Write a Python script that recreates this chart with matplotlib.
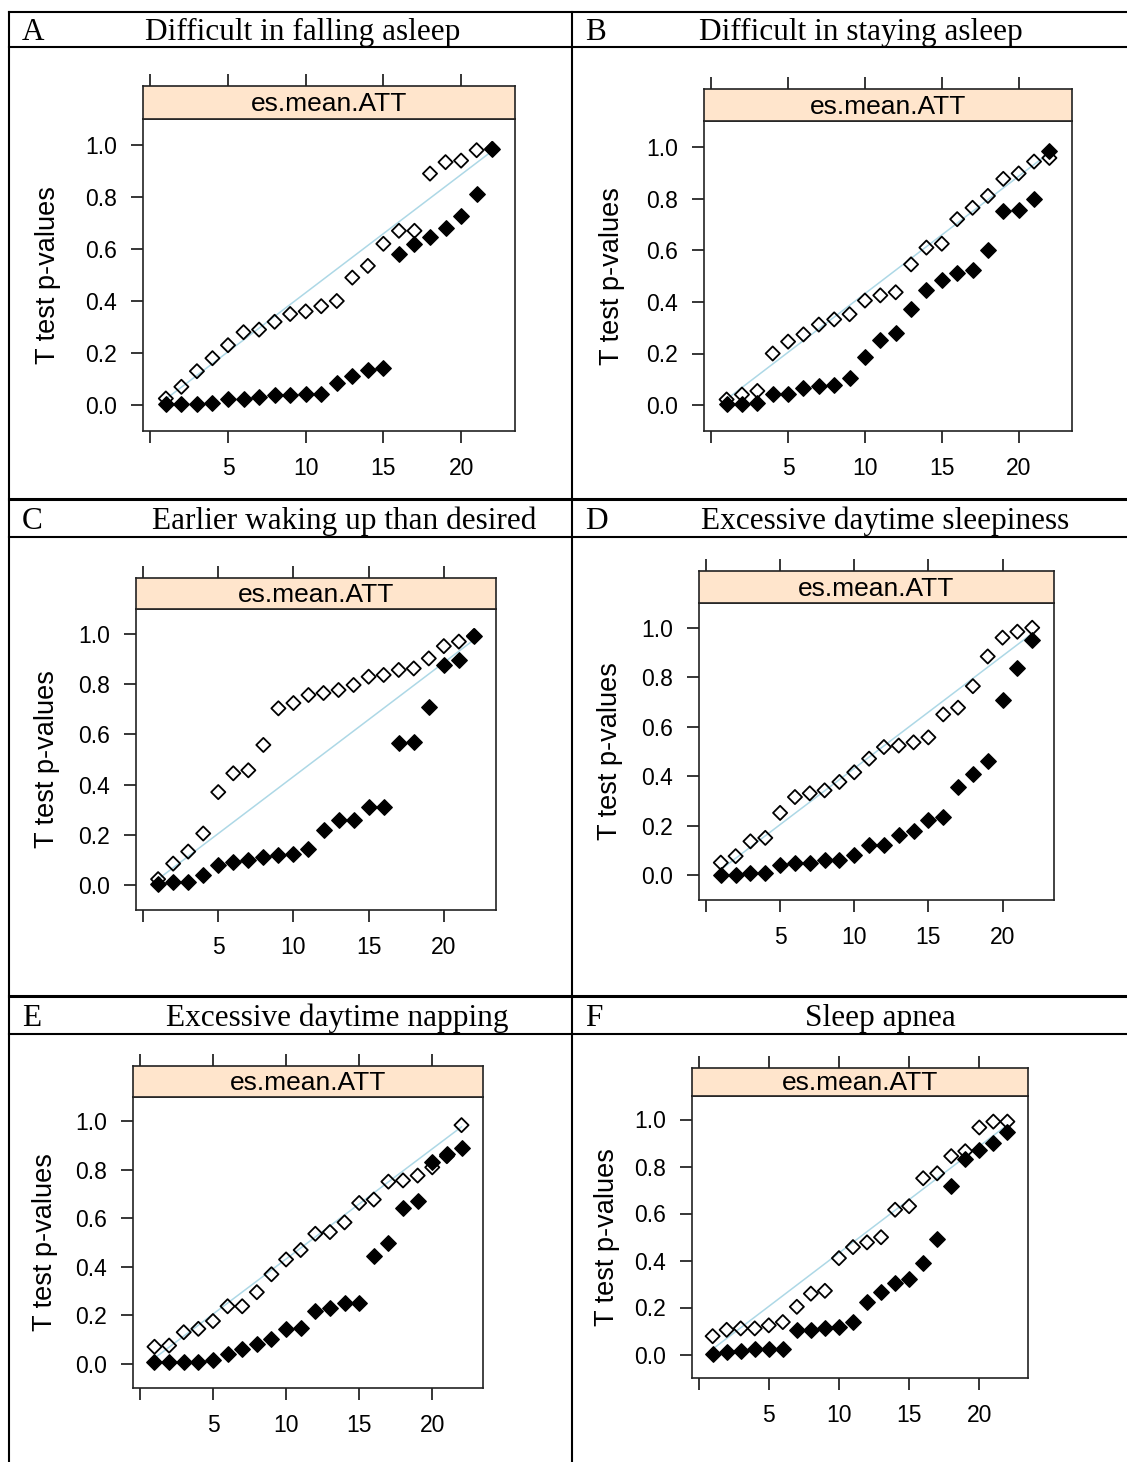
import numpy as np
import matplotlib
matplotlib.use('Agg')
import matplotlib.pyplot as plt

# rank of the sorted p-values
ranks = np.arange(1, 23)

# panel titles
letters = ['A', 'B', 'C', 'D', 'E', 'F']
titles = ['Difficult in falling asleep', 'Difficult in staying asleep',
          'Earlier waking up than desired', 'Excessive daytime sleepiness',
          'Excessive daytime napping', 'Sleep apnea']

# open diamonds (before matching) and filled diamonds (after matching)
a_open = [0.025, 0.07, 0.13, 0.18, 0.23, 0.28, 0.29, 0.32, 0.35, 0.36, 0.38,
          0.40, 0.49, 0.535, 0.62, 0.67, 0.67, 0.89, 0.934, 0.94, 0.98, 0.985]
a_filled = [0.003, 0.003, 0.003, 0.009, 0.024, 0.024, 0.03, 0.037, 0.037, 0.043, 0.043,
            0.083, 0.11, 0.136, 0.143, 0.58, 0.618, 0.646, 0.68, 0.726, 0.813, 0.985]

b_open = [0.022, 0.041, 0.055, 0.20, 0.246, 0.274, 0.312, 0.332, 0.352, 0.405, 0.425,
          0.437, 0.545, 0.61, 0.625, 0.72, 0.764, 0.81, 0.876, 0.897, 0.943, 0.957]
b_filled = [0.006, 0.004, 0.01, 0.045, 0.045, 0.066, 0.074, 0.08, 0.107, 0.187, 0.253,
            0.28, 0.372, 0.445, 0.485, 0.512, 0.525, 0.60, 0.75, 0.757, 0.797, 0.985]

c_open = [0.023, 0.085, 0.133, 0.205, 0.37, 0.445, 0.457, 0.558, 0.704, 0.725, 0.757,
          0.765, 0.777, 0.797, 0.83, 0.837, 0.857, 0.863, 0.903, 0.952, 0.97, 0.992]
c_filled = [0.004, 0.01, 0.01, 0.038, 0.078, 0.092, 0.10, 0.112, 0.118, 0.124, 0.145,
            0.218, 0.258, 0.258, 0.31, 0.31, 0.564, 0.571, 0.71, 0.878, 0.896, 0.992]

d_open = [0.051, 0.077, 0.137, 0.151, 0.252, 0.316, 0.331, 0.343, 0.377, 0.416, 0.471,
          0.518, 0.524, 0.537, 0.557, 0.65, 0.677, 0.764, 0.884, 0.96, 0.984, 1.0]
d_filled = [0.001, 0.001, 0.008, 0.008, 0.043, 0.05, 0.05, 0.063, 0.063, 0.082, 0.122,
            0.122, 0.163, 0.178, 0.223, 0.236, 0.357, 0.41, 0.463, 0.71, 0.838, 0.952]

e_open = [0.07, 0.075, 0.13, 0.144, 0.176, 0.237, 0.237, 0.295, 0.369, 0.43, 0.469,
          0.536, 0.543, 0.583, 0.663, 0.677, 0.751, 0.756, 0.776, 0.81, 0.856, 0.984]
e_filled = [0.008, 0.008, 0.008, 0.008, 0.015, 0.042, 0.062, 0.082, 0.103, 0.142, 0.149,
            0.216, 0.23, 0.249, 0.249, 0.443, 0.497, 0.643, 0.67, 0.83, 0.863, 0.89]

f_open = [0.078, 0.105, 0.111, 0.111, 0.124, 0.138, 0.203, 0.259, 0.271, 0.41, 0.457,
          0.477, 0.499, 0.616, 0.631, 0.75, 0.771, 0.844, 0.865, 0.966, 0.991, 0.991]
f_filled = [0.003, 0.01, 0.017, 0.024, 0.024, 0.024, 0.104, 0.104, 0.111, 0.118, 0.138,
            0.223, 0.264, 0.304, 0.322, 0.391, 0.491, 0.717, 0.83, 0.871, 0.898, 0.945]

open_vals = [a_open, b_open, c_open, d_open, e_open, f_open]
filled_vals = [a_filled, b_filled, c_filled, d_filled, e_filled, f_filled]

# uniform reference line
ref_x = [1, 22]
ref_y = [0.023, 0.977]

x_ticks = [0, 5, 10, 15, 20]
x_ticklabels = ['', '5', '10', '15', '20']
y_ticks = [0.0, 0.2, 0.4, 0.6, 0.8, 1.0]
y_ticklabels = ['0.0', '0.2', '0.4', '0.6', '0.8', '1.0']

W, H = 1127, 1462
fig = plt.figure(figsize=(W / 100, H / 100), dpi=100)

# background layer in pixel coords for the table grid and headers
bg = fig.add_axes([0, 0, 1, 1], zorder=-1)
bg.set_xlim(0, W)
bg.set_ylim(H, 0)
bg.axis('off')

lw_tab = 1.5
bg.plot([9, W], [12, 12], color='black', lw=lw_tab)
for yy in [47, 537, 1034]:
    bg.plot([9, W], [yy, yy], color='black', lw=lw_tab)
for yy in [499, 996]:
    bg.plot([9, W], [yy, yy], color='black', lw=2.2)
bg.plot([9, 9], [12, H], color='black', lw=lw_tab)
bg.plot([572, 572], [12, H], color='black', lw=lw_tab)

# header text positions (pixels)
letter_x = [22, 585, 22, 585, 22, 585]
title_cx = [303, 861, 344, 885, 337, 880]
header_base = [40, 40, 529, 529, 1026, 1026]
serif = ['Liberation Serif', 'DejaVu Serif']
for i in range(6):
    bg.text(letter_x[i], header_base[i], letters[i], fontsize=22.5, family=serif,
            ha='left', va='baseline')
    bg.text(title_cx[i], header_base[i], titles[i], fontsize=22.5, family=serif,
            ha='center', va='baseline')

# panel geometry in pixels: left, right, bottom (y=-0.1), top (y=1.1), strip top, ylabel x
geom = [
    (143, 515, 431, 119, 86, 48),
    (704, 1072, 431, 121, 89, 612),
    (136, 496, 910, 609, 578, 47),
    (699, 1054, 900, 603, 571, 610),
    (133, 483, 1388, 1097, 1066, 45),
    (692, 1028, 1378, 1096, 1068, 607),
]

sans = ['Liberation Sans', 'DejaVu Sans']
tick_len = 8.5

for i in range(6):
    left, right, bottom, top, stop, ylx = geom[i]
    ax = fig.add_axes([left / W, 1 - bottom / H, (right - left) / W, (bottom - top) / H])
    ax.plot(ref_x, ref_y, color='#add8e6', lw=1.1, zorder=1)
    ax.scatter(ranks, open_vals[i], marker='D', s=52, facecolors='none',
               edgecolors='black', linewidths=1.3, zorder=2)
    ax.scatter(ranks, filled_vals[i], marker='D', s=62, color='black', zorder=3)
    ax.set_xlim(-0.47, 23.47)
    ax.set_ylim(-0.1, 1.1)
    ax.set_xticks(x_ticks)
    ax.set_xticklabels(x_ticklabels, family=sans)
    ax.set_yticks(y_ticks)
    ax.set_yticklabels(y_ticklabels, family=sans)
    ax.tick_params(axis='both', direction='out', length=tick_len, width=1.1,
                   labelsize=16.5, pad=10, colors='black')
    ax.tick_params(top=False, right=False)
    for sp in ax.spines.values():
        sp.set_linewidth(1.2)
        sp.set_color('#222222')
    ax.set_ylabel('T test p-values', fontsize=19.5, family=sans)
    ax.yaxis.set_label_coords((ylx + 13 - left) / (right - left), 0.5)

    # lattice strip on top
    st = fig.add_axes([left / W, 1 - top / H, (right - left) / W, (top - stop) / H])
    st.set_facecolor('#ffe5cc')
    st.set_xlim(-0.47, 23.47)
    st.set_xticks(x_ticks)
    st.set_yticks([])
    st.tick_params(axis='x', bottom=False, labelbottom=False, top=True, labeltop=False,
                   direction='out', length=tick_len, width=1.1)
    for sp in st.spines.values():
        sp.set_linewidth(1.2)
        sp.set_color('#222222')
    st.text(0.5, 0.45, 'es.mean.ATT', transform=st.transAxes, ha='center', va='center',
            fontsize=19, family=sans)

fig.savefig('out.png', dpi=100)
